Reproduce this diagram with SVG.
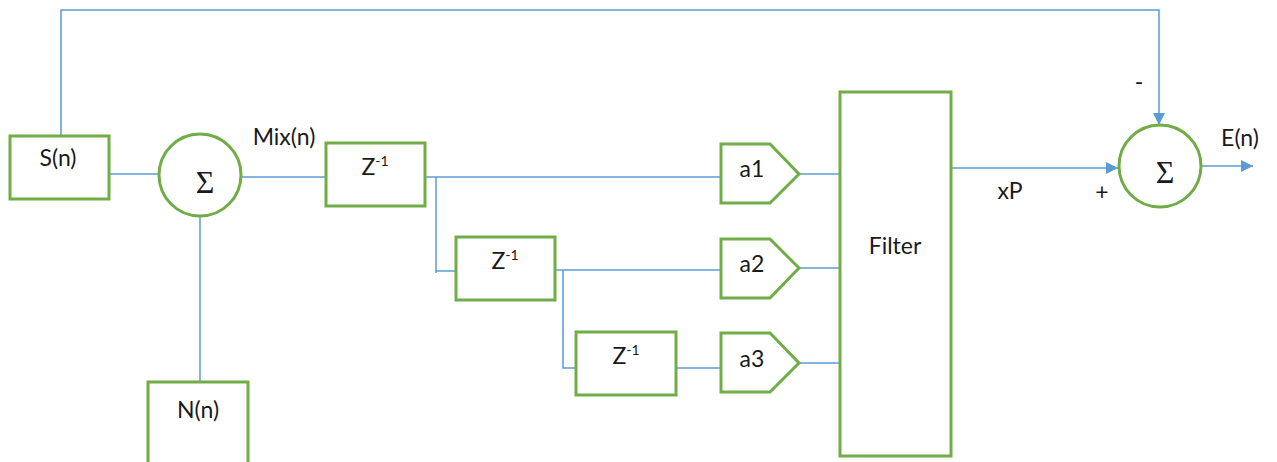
<svg xmlns="http://www.w3.org/2000/svg" width="1277" height="462" viewBox="0 0 1277 462">
  <style>
    .box { fill: #ffffff; stroke: #70AD47; stroke-width: 3; }
    .wire { fill: none; stroke: #5B9BD5; stroke-width: 1.5; }
    .lbl { font-family: Lato, "Open Sans", "Liberation Sans", sans-serif; font-size: 23px; fill: #1a1a1a; }
    .sig { font-family: "Liberation Serif", "DejaVu Serif", serif; font-size: 32px; fill: #1a1a1a; }
    .sup { font-size: 14px; }
  </style>
  <defs>
    <marker id="arrow" viewBox="0 0 10 10" refX="10" refY="5" markerWidth="14" markerHeight="12" markerUnits="userSpaceOnUse" orient="auto">
      <path d="M0,0 L10,5 L0,10 Z" fill="#5B9BD5"/>
    </marker>
  </defs>

  <rect width="1277" height="462" fill="#ffffff"/>

  <!-- connectors -->
  <g id="connectors">
    <path class="wire" d="M61,135 V10 H1159 V125" marker-end="url(#arrow)"/>
    <path class="wire" d="M109,174 H159"/>
    <path class="wire" d="M241,177 H326"/>
    <path class="wire" d="M200,216 V382"/>
    <path class="wire" d="M425,177 H721"/>
    <path class="wire" d="M436,177 V273 M436,271 H456"/>
    <path class="wire" d="M555,270 H721"/>
    <path class="wire" d="M563,270 V368 H583"/>
    <path class="wire" d="M676,368 H721"/>
    <path class="wire" d="M799,174 H842"/>
    <path class="wire" d="M799,268 H842"/>
    <path class="wire" d="M799,363 H842"/>
    <path class="wire" d="M951,168 H1118" marker-end="url(#arrow)"/>
    <path class="wire" d="M1201,166 H1253" marker-end="url(#arrow)"/>
  </g>

  <!-- sources -->
  <g id="node-s">
    <rect class="box" x="10" y="136" width="99" height="63"/>
    <text class="lbl" x="58" y="166" text-anchor="middle">S(n)</text>
  </g>
  <g id="node-n">
    <rect class="box" x="148" y="382" width="100" height="90"/>
    <text class="lbl" x="198" y="418" text-anchor="middle">N(n)</text>
  </g>

  <!-- first summing junction -->
  <g id="node-sum1">
    <circle class="box" cx="200" cy="175" r="41"/>
    <text class="sig" x="205" y="193" text-anchor="middle">Σ</text>
  </g>
  <text class="lbl" x="284" y="145" text-anchor="middle">Mix(n)</text>

  <!-- delay line -->
  <g id="node-z1">
    <rect class="box" x="326" y="143" width="99" height="63"/>
    <text class="lbl" x="375" y="175" text-anchor="middle">Z<tspan class="sup" dy="-9">-1</tspan></text>
  </g>
  <g id="node-z2">
    <rect class="box" x="456" y="237" width="99" height="63"/>
    <text class="lbl" x="505" y="269" text-anchor="middle">Z<tspan class="sup" dy="-9">-1</tspan></text>
  </g>
  <g id="node-z3">
    <rect class="box" x="576" y="332" width="100" height="63"/>
    <text class="lbl" x="626" y="364" text-anchor="middle">Z<tspan class="sup" dy="-9">-1</tspan></text>
  </g>

  <!-- coefficient gains -->
  <g id="node-a1">
    <path class="box" d="M721,144 H770 L799,174 L770,203 H721 Z"/>
    <text class="lbl" x="752" y="177" text-anchor="middle">a1</text>
  </g>
  <g id="node-a2">
    <path class="box" d="M721,239 H770 L799,268 L770,298 H721 Z"/>
    <text class="lbl" x="752" y="272" text-anchor="middle">a2</text>
  </g>
  <g id="node-a3">
    <path class="box" d="M721,333 H770 L799,363 L770,392 H721 Z"/>
    <text class="lbl" x="752" y="367" text-anchor="middle">a3</text>
  </g>

  <!-- filter -->
  <g id="node-filter">
    <rect class="box" x="840" y="92" width="111" height="364"/>
    <text class="lbl" x="895" y="254" text-anchor="middle">Filter</text>
  </g>
  <text class="lbl" x="1010" y="199" text-anchor="middle">xP</text>
  <text class="lbl" x="1102" y="200" text-anchor="middle">+</text>
  <text class="lbl" x="1139" y="90" text-anchor="middle">-</text>

  <!-- error summing junction -->
  <g id="node-sum2">
    <circle class="box" cx="1160" cy="166" r="41"/>
    <text class="sig" x="1165" y="183" text-anchor="middle">Σ</text>
  </g>
  <text class="lbl" x="1240" y="146" text-anchor="middle">E(n)</text>
</svg>
